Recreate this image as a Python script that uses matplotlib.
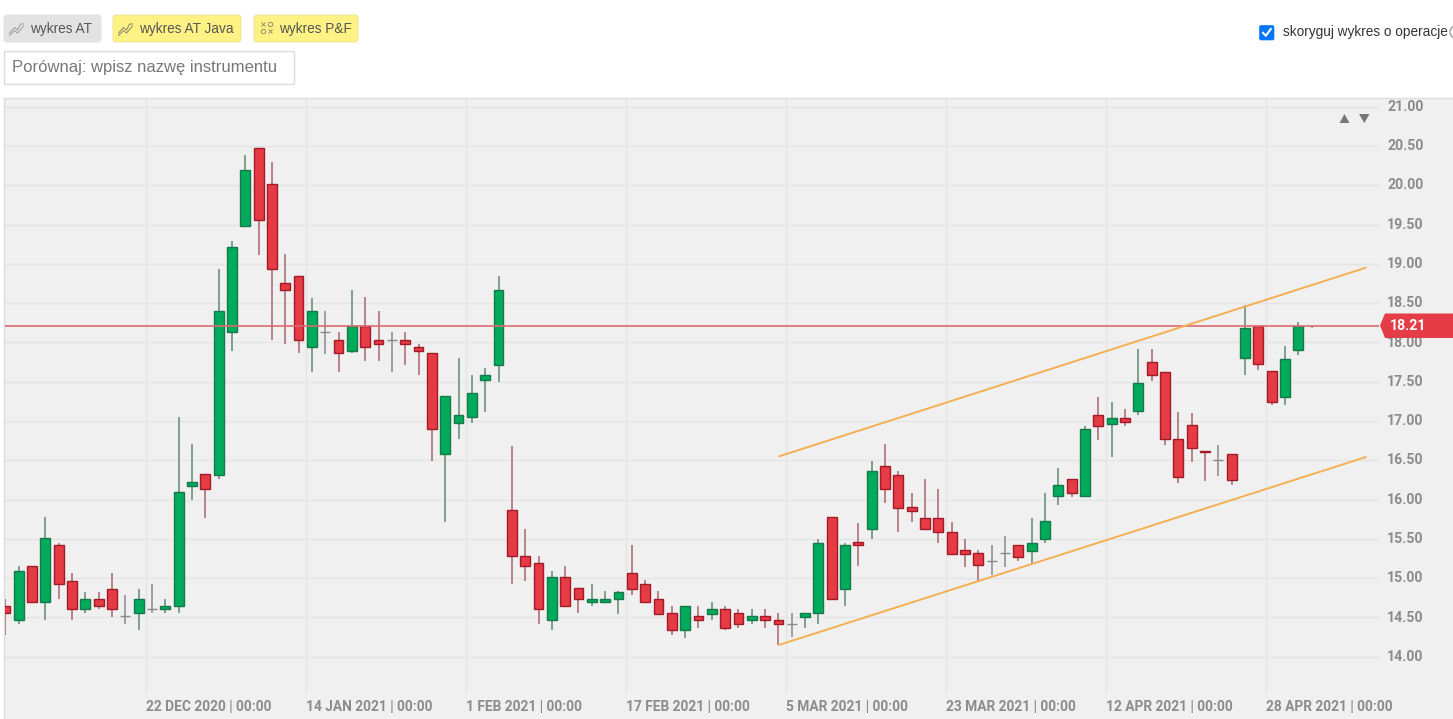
import matplotlib
matplotlib.use("Agg")
import matplotlib.pyplot as plt
from matplotlib.patches import Rectangle, FancyBboxPatch, Polygon, Circle
from matplotlib.transforms import ScaledTranslation

W, H = 1453, 719

highs = [14.74,15.16,15.16,15.78,15.45,15.06,14.82,14.82,15.06,14.79,14.86,14.92,14.74,17.05,16.71,16.32,18.94,19.29,20.38,20.47,
         20.30,19.12,18.85,18.57,18.40,18.13,18.67,18.58,18.40,18.13,18.13,17.98,17.86,17.32,17.80,17.59,17.67,18.85,16.68,15.63,
         15.28,15.09,15.16,14.87,14.92,14.83,14.83,15.42,14.97,14.83,14.65,14.65,14.65,14.69,14.65,14.61,14.61,14.61,14.55,14.55,
         14.55,15.50,15.78,15.45,15.70,16.49,16.71,16.36,16.08,16.26,16.13,15.72,15.50,15.36,15.42,15.54,15.42,15.76,16.08,16.40,
         16.26,16.94,17.31,17.24,17.15,17.91,17.91,17.62,17.12,17.10,16.62,16.70,16.58,18.47,18.21,17.63,17.95,18.26,18.21]
opens = [14.64,14.47,15.16,14.69,15.42,14.96,14.61,14.74,14.86,14.52,14.55,14.61,14.61,14.64,16.17,16.32,16.31,18.13,19.48,20.47,
         20.02,18.75,18.85,17.94,18.13,18.03,17.89,18.21,18.03,18.03,18.03,17.94,17.86,16.58,16.98,17.05,17.52,17.71,15.87,15.28,
         15.19,14.47,15.01,14.87,14.69,14.69,14.73,15.06,14.92,14.74,14.55,14.34,14.52,14.54,14.61,14.55,14.47,14.52,14.47,14.42,
         14.51,14.55,15.78,14.86,15.46,15.63,16.43,16.31,15.90,15.77,15.77,15.59,15.36,15.32,15.22,15.32,15.42,15.35,15.50,16.04,
         16.26,16.05,17.08,16.96,17.04,17.13,17.75,17.62,16.77,16.95,16.62,16.50,16.58,17.80,18.21,17.63,17.31,17.90,18.21]
closes = [14.55,15.09,14.69,15.51,14.92,14.61,14.74,14.64,14.61,14.52,14.74,14.61,14.64,16.10,16.22,16.14,18.40,19.21,20.20,19.56,
          18.94,18.67,18.03,18.40,18.13,17.86,18.21,17.94,17.98,18.03,17.98,17.89,16.90,17.32,17.08,17.35,17.59,18.67,15.28,15.15,
          14.61,15.01,14.64,14.74,14.74,14.74,14.82,14.86,14.69,14.54,14.34,14.65,14.47,14.61,14.37,14.42,14.52,14.47,14.42,14.42,
          14.55,15.45,14.73,15.42,15.42,16.36,16.13,15.89,15.85,15.62,15.59,15.31,15.31,15.17,15.22,15.32,15.27,15.45,15.73,16.18,
          16.08,16.90,16.94,17.04,16.99,17.48,17.59,16.77,16.29,16.65,16.60,16.50,16.25,18.18,17.72,17.24,17.79,18.21,18.21]
lows = [14.27,14.42,14.69,14.47,14.74,14.47,14.55,14.61,14.51,14.42,14.34,14.55,14.55,14.55,15.99,15.77,16.26,17.89,19.48,19.11,
        18.03,17.98,17.86,17.62,17.85,17.62,17.86,17.76,17.76,17.62,17.71,17.58,16.49,15.72,16.77,16.98,17.12,17.49,14.92,14.96,
        14.42,14.34,14.64,14.55,14.64,14.69,14.54,14.78,14.69,14.54,14.28,14.24,14.36,14.47,14.34,14.36,14.42,14.36,14.15,14.25,
        14.36,14.42,14.73,14.64,15.15,15.50,15.95,15.59,15.72,15.62,15.45,15.31,15.14,14.96,15.04,15.14,15.22,15.18,15.45,15.93,
        16.03,16.03,16.76,16.54,16.93,17.07,17.51,16.70,16.21,16.48,16.24,16.30,16.18,17.59,17.65,17.20,17.20,17.84,18.18]

last_price = 18.21
price_ticks = [14.0, 14.5, 15.0, 15.5, 16.0, 16.5, 17.0, 17.5, 18.0, 18.5, 19.0, 19.5, 20.0, 20.5, 21.0]
date_ticks = [10.55, 22.55, 34.55, 46.55, 58.55, 70.55, 82.55, 94.55]
date_labels = ["22 DEC 2020 | 00:00", "14 JAN 2021 | 00:00", "1 FEB 2021 | 00:00", "17 FEB 2021 | 00:00",
               "5 MAR 2021 | 00:00", "23 MAR 2021 | 00:00", "12 APR 2021 | 00:00", "28 APR 2021 | 00:00"]
upper_channel_x, upper_channel_y = [58.05, 102.05], [16.55, 18.95]
lower_channel_x, lower_channel_y = [58.05, 102.05], [14.15, 16.54]

GREEN, GREEN_E, GREEN_W = "#00ab5b", "#17784a", "#5f8a74"
RED, RED_E, RED_W = "#e63b45", "#a01a28", "#a8666c"
DOJI = "#8a8a8a"

fig = plt.figure(figsize=(W / 100, H / 100), dpi=100, facecolor="white")


def overlay(z):
    a = fig.add_axes([0, 0, 1, 1], zorder=z)
    a.set_xlim(0, W)
    a.set_ylim(H, 0)
    a.axis("off")
    a.patch.set_alpha(0)
    return a


bg = overlay(0)
bg.add_patch(Rectangle((4, 98), W, H, fc="#f0f0f0", ec="#dcdcdc", lw=1))

L, R, T, B = 5, 1379, 98, 693
X0 = 5.3
ax = fig.add_axes([L / W, 1 - B / H, (R - L) / W, (B - T) / H], zorder=1)
ax.patch.set_alpha(0)
ax.set_xlim((L - X0) / 13.33, (R - X0) / 13.33)
ax.set_ylim(21 - (B - 106.7) / 78.57, 21 - (T - 106.7) / 78.57)
for s in ax.spines.values():
    s.set_visible(False)
ax.set_axisbelow(True)
ax.grid(True, color="#e4e4e4", lw=1.0)
ax.yaxis.tick_right()
ax.set_yticks(price_ticks)
ax.set_yticklabels([f"{v:.2f}" for v in price_ticks], fontfamily="Roboto", fontsize=10.2, fontweight="bold", color="#8c8c8c")
ax.set_xticks(date_ticks)
ax.set_xticklabels(date_labels, fontfamily="Roboto", fontsize=9.9, fontweight="bold", color="#8c8c8c", ha="left")
ax.tick_params(axis="both", length=0)
ax.tick_params(axis="y", pad=6)
ax.tick_params(axis="x", pad=4.8)
lift = ScaledTranslation(0, 1.3 / 100, fig.dpi_scale_trans)
for lab in ax.get_yticklabels():
    lab.set_transform(lab.get_transform() + lift)

ax.axhline(last_price, color="#dc6a70", lw=1.2, zorder=3)

for i, (h, o, c, l) in enumerate(zip(highs, opens, closes, lows)):
    if c > o:
        f, e, w = GREEN, GREEN_E, GREEN_W
    elif c < o:
        f, e, w = RED, RED_E, RED_W
    else:
        f, e, w = DOJI, DOJI, DOJI
    ax.vlines(i, l, h, color=w, lw=1.1, zorder=2)
    if c == o:
        if i < len(highs) - 1:
            ax.hlines(o, i - 0.37, i + 0.37, color=DOJI, lw=1.0, zorder=2)
    else:
        ax.bar(i, abs(c - o), bottom=min(o, c), width=0.74, color=f, edgecolor=e, lw=1.0, zorder=2.5)

ax.plot(upper_channel_x, upper_channel_y, color="#f4b053", lw=1.4, zorder=4)
ax.plot(lower_channel_x, lower_channel_y, color="#f4b053", lw=1.4, zorder=4)

top = overlay(2)

# price tag
top.add_patch(Polygon([(1380, 325.5), (1385, 313.5), (W, 313.5), (W, 338), (1385, 338)], fc="#e43d47", ec="none"))
top.text(1390, 326, f"{last_price:.2f}", color="white", fontfamily="Roboto", fontsize=10.2, fontweight="bold", va="center")

# scale arrows
top.add_patch(Polygon([(1339.5, 123), (1349.5, 123), (1344.5, 114)], fc="#777777", ec="none"))
top.add_patch(Polygon([(1359, 114), (1369.5, 114), (1364.3, 123)], fc="#777777", ec="none"))

# buttons
for x0, x1, fc, ec in [(4, 101, "#e3e3e3", "#e3e3e3"), (113, 241, "#fdf283", "#efe7a0"), (254, 358, "#fdf283", "#efe7a0")]:
    top.add_patch(FancyBboxPatch((x0 + 3, 18), x1 - x0 - 6, 21, boxstyle="round,pad=3", fc=fc, ec=ec, lw=0.8))
for tx, label in [(30.5, "wykres AT"), (139.5, "wykres AT Java"), (279.5, "wykres P&F")]:
    top.text(tx, 29.5, label, fontfamily="Liberation Sans", fontsize=9.8, color="#555555", va="center")


def chart_icon(x, col):
    top.plot([x, x + 5, x + 8, x + 14], [35.5, 30.5, 33, 26], color=col, lw=0.7)
    top.plot([x, x + 5, x + 8, x + 11, x + 14], [33, 27.5, 30, 24, 24], color=col, lw=0.7)


chart_icon(9.5, "#9a9a9a")
chart_icon(118.5, "#85826a")
top.plot([263, 270], [24, 31], "x", ms=3.4, mew=0.6, color="#85826a", ls="none")
top.plot([270, 263], [24, 31], "o", ms=3.2, mew=0.6, mfc="none", color="#85826a", ls="none")

# compare input
top.add_patch(Rectangle((4, 50.5), 289.5, 33.5, fc="white", ec="#dddddd", lw=1))
top.text(12, 67.5, "Porównaj: wpisz nazwę instrumentu", fontfamily="Liberation Sans", fontsize=11.95, color="#777777", va="center")

# checkbox
top.add_patch(FancyBboxPatch((1261, 27), 11.5, 11.5, boxstyle="round,pad=1.8", fc="#0075ff", ec="none"))
top.plot([1263, 1265.8, 1270.8], [32.8, 35.8, 29], color="white", lw=1.5)
top.text(1283, 32, "skoryguj wykres o operacje", fontfamily="Liberation Sans", fontsize=9.85, color="#333333", va="center")
top.add_patch(Circle((1456, 32), 6, fc="none", ec="#999999", lw=1))

fig.savefig("out.png", dpi=100, facecolor="white")
